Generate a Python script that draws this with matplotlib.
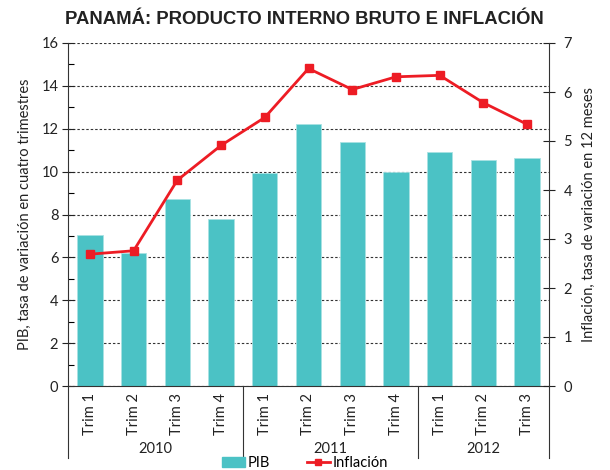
import matplotlib
matplotlib.use("Agg")
import matplotlib.pyplot as plt
import matplotlib.transforms as mtransforms
from matplotlib.patches import Patch
from matplotlib.lines import Line2D
import numpy as np

quarters = ["Trim 1", "Trim 2", "Trim 3", "Trim 4",
            "Trim 1", "Trim 2", "Trim 3", "Trim 4",
            "Trim 1", "Trim 2", "Trim 3"]
years = ["2010", "2011", "2012"]
year_sizes = [4, 4, 3]
pib = [7.05, 6.2, 8.7, 7.8, 9.95, 12.2, 11.4, 9.98, 10.9, 10.55, 10.62]
inflacion = [2.69, 2.76, 4.2, 4.91, 5.48, 6.48, 6.05, 6.31, 6.34, 5.78, 5.34]

title = "PANAMÁ: PRODUCTO INTERNO BRUTO E INFLACIÓN"
ylabel_left = "PIB, tasa de variación en cuatro trimestres"
ylabel_right = "Inflación, tasa de variación en 12 meses"

teal = "#4BC2C5"
red = "#ED1C24"
font = ["Lato", "DejaVu Sans"]
fs = 10.5

fig = plt.figure(figsize=(6.1, 4.7), dpi=100)
W, H = 610, 470
ax = fig.add_axes([68 / W, 1 - 386 / H, (549 - 68) / W, 343 / H])

x = np.arange(len(pib))
ax.bar(x, pib, width=0.58, color=teal, edgecolor="#A8E2E3", linewidth=0.6, zorder=2)
ax.set_xlim(-0.5, len(pib) - 0.5)
ax.set_ylim(0, 16)
ax.set_yticks(np.arange(0, 17, 2))
ax.set_yticks(np.arange(1, 16, 2), minor=True)
ax.yaxis.grid(True, which="major", linestyle=(0, (2.2, 1.8)), color="#333333", linewidth=0.8, zorder=1)
ax.set_axisbelow(True)
ax.tick_params(axis="y", which="major", direction="inout", length=8, width=0.8, labelsize=fs, pad=3, colors="#222222")
ax.tick_params(axis="y", which="minor", direction="in", length=4, width=0.8)
for lab in ax.get_yticklabels():
    lab.set_family(font)

ax.set_xticks(x)
ax.set_xticklabels(quarters, rotation=90, fontsize=fs, family=font, color="#222222")
ax.tick_params(axis="x", length=0, pad=5)

for s in ["top", "right"]:
    ax.spines[s].set_visible(False)
ax.spines["left"].set_color("#333333")
ax.spines["bottom"].set_color("#333333")
ax.spines["left"].set_linewidth(0.8)
ax.spines["bottom"].set_linewidth(0.8)

ax.set_ylabel(ylabel_left, fontsize=fs, family=font, color="#222222", labelpad=7)

ax2 = ax.twinx()
ax2.plot(x, inflacion, color=red, linewidth=2.0, marker="s", markersize=6, zorder=5)
ax2.set_ylim(0, 7)
ax2.set_yticks(np.arange(0, 8, 1))
ax2.tick_params(axis="y", direction="inout", length=9, width=0.8, labelsize=fs, pad=6, colors="#222222")
for lab in ax2.get_yticklabels():
    lab.set_family(font)
for s in ["top", "left", "bottom"]:
    ax2.spines[s].set_visible(False)
ax2.spines["right"].set_color("#333333")
ax2.spines["right"].set_linewidth(0.8)
ax2.set_ylabel(ylabel_right, fontsize=fs, family=font, color="#222222", labelpad=7)

trans = mtransforms.blended_transform_factory(ax.transData, ax.transAxes)
ext = -72 / 343
bounds = [-0.5]
acc = -0.5
for n in year_sizes:
    acc += n
    bounds.append(acc)
for b in bounds:
    ax.plot([b, b], [0, ext], transform=trans, color="#333333", linewidth=0.8, clip_on=False)
start = 0
for yr, n in zip(years, year_sizes):
    xc = start + (n - 1) / 2
    ax.text(xc, -63 / 343, yr, transform=trans, ha="center", va="center",
            fontsize=fs, family=font, color="#222222")
    start += n

fig.text(304 / W, 1 - 19 / H, title, ha="center", va="center", fontsize=13.3,
         fontweight="bold", family=["Liberation Sans", "DejaVu Sans"], color="#222222")

handles = [Patch(facecolor=teal, edgecolor=teal),
           Line2D([0], [0], color=red, linewidth=2, marker="s", markersize=5)]
fig.legend(handles, ["PIB", "Inflación"], loc="center", bbox_to_anchor=(305 / W, 1 - 463 / H),
           ncol=2, frameon=False, prop={"family": font, "size": fs},
           handlelength=1.6, handletextpad=0.2, columnspacing=2.5, borderpad=0)

fig.savefig("out.png", dpi=100)
